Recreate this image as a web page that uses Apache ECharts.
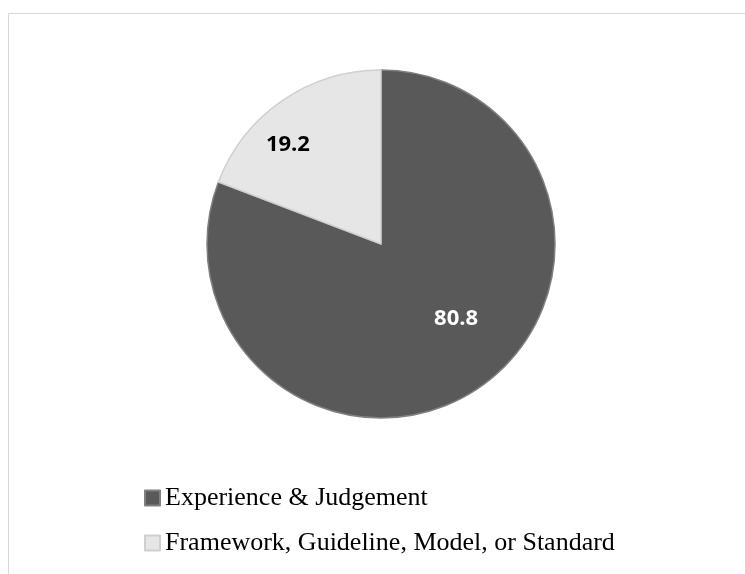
<!DOCTYPE html>
<html>
<head>
<meta charset="utf-8">
<style>
  html, body { margin: 0; padding: 0; background: #ffffff; }
  #chart { width: 745px; height: 574px; }
</style>
<script src="https://cdn.jsdelivr.net/npm/echarts@6/dist/echarts.min.js"></script>
</head>
<body>
<div id="chart"></div>
<script>
// Share of respondents by basis used for decisions (%)
const categories = ['Experience & Judgement', 'Framework, Guideline, Model, or Standard'];
const values = [80.8, 19.2];
const sliceColors = ['#595959', '#e6e6e6'];
const sliceBorders = ['#808080', '#d0d0d0'];
const labelColors = ['#ffffff', '#000000'];
// nudges of the in-slice value labels away from the mid-radius point
const labelShift = [[24, 1], [-42, -25]];

const chart = echarts.init(document.getElementById('chart'), null, { renderer: 'canvas' });

chart.setOption({
  animation: false,
  backgroundColor: '#ffffff',
  graphic: [{
    type: 'rect',
    shape: { x: 8.5, y: 13.5, width: 800, height: 700 },
    style: { fill: 'none', stroke: '#d9d9d9', lineWidth: 1 },
    silent: true,
    z: 0
  }],
  legend: {
    orient: 'vertical',
    left: 144,
    top: 485,
    padding: 0,
    itemGap: 19,
    itemWidth: 15,
    itemHeight: 15,
    icon: 'rect',
    data: categories,
    textStyle: {
      fontFamily: 'Liberation Serif',
      fontSize: 26,
      lineHeight: 26,
      color: '#000000'
    }
  },
  series: [{
    type: 'pie',
    center: [381, 244],
    radius: 174,
    startAngle: 90,
    clockwise: true,
    avoidLabelOverlap: false,
    emphasis: { disabled: true },
    label: {
      show: true,
      position: 'inside',
      fontFamily: 'Open Sans',
      fontWeight: 'bold',
      fontSize: 22,
      formatter: p => p.value.toFixed(1)
    },
    labelLine: { show: false },
    labelLayout: p => ({ dx: labelShift[p.dataIndex][0], dy: labelShift[p.dataIndex][1] }),
    data: categories.map((name, i) => ({
      name: name,
      value: values[i],
      itemStyle: { color: sliceColors[i], borderColor: sliceBorders[i], borderWidth: 1.5 },
      label: { color: labelColors[i] }
    }))
  }]
});
</script>
</body>
</html>
